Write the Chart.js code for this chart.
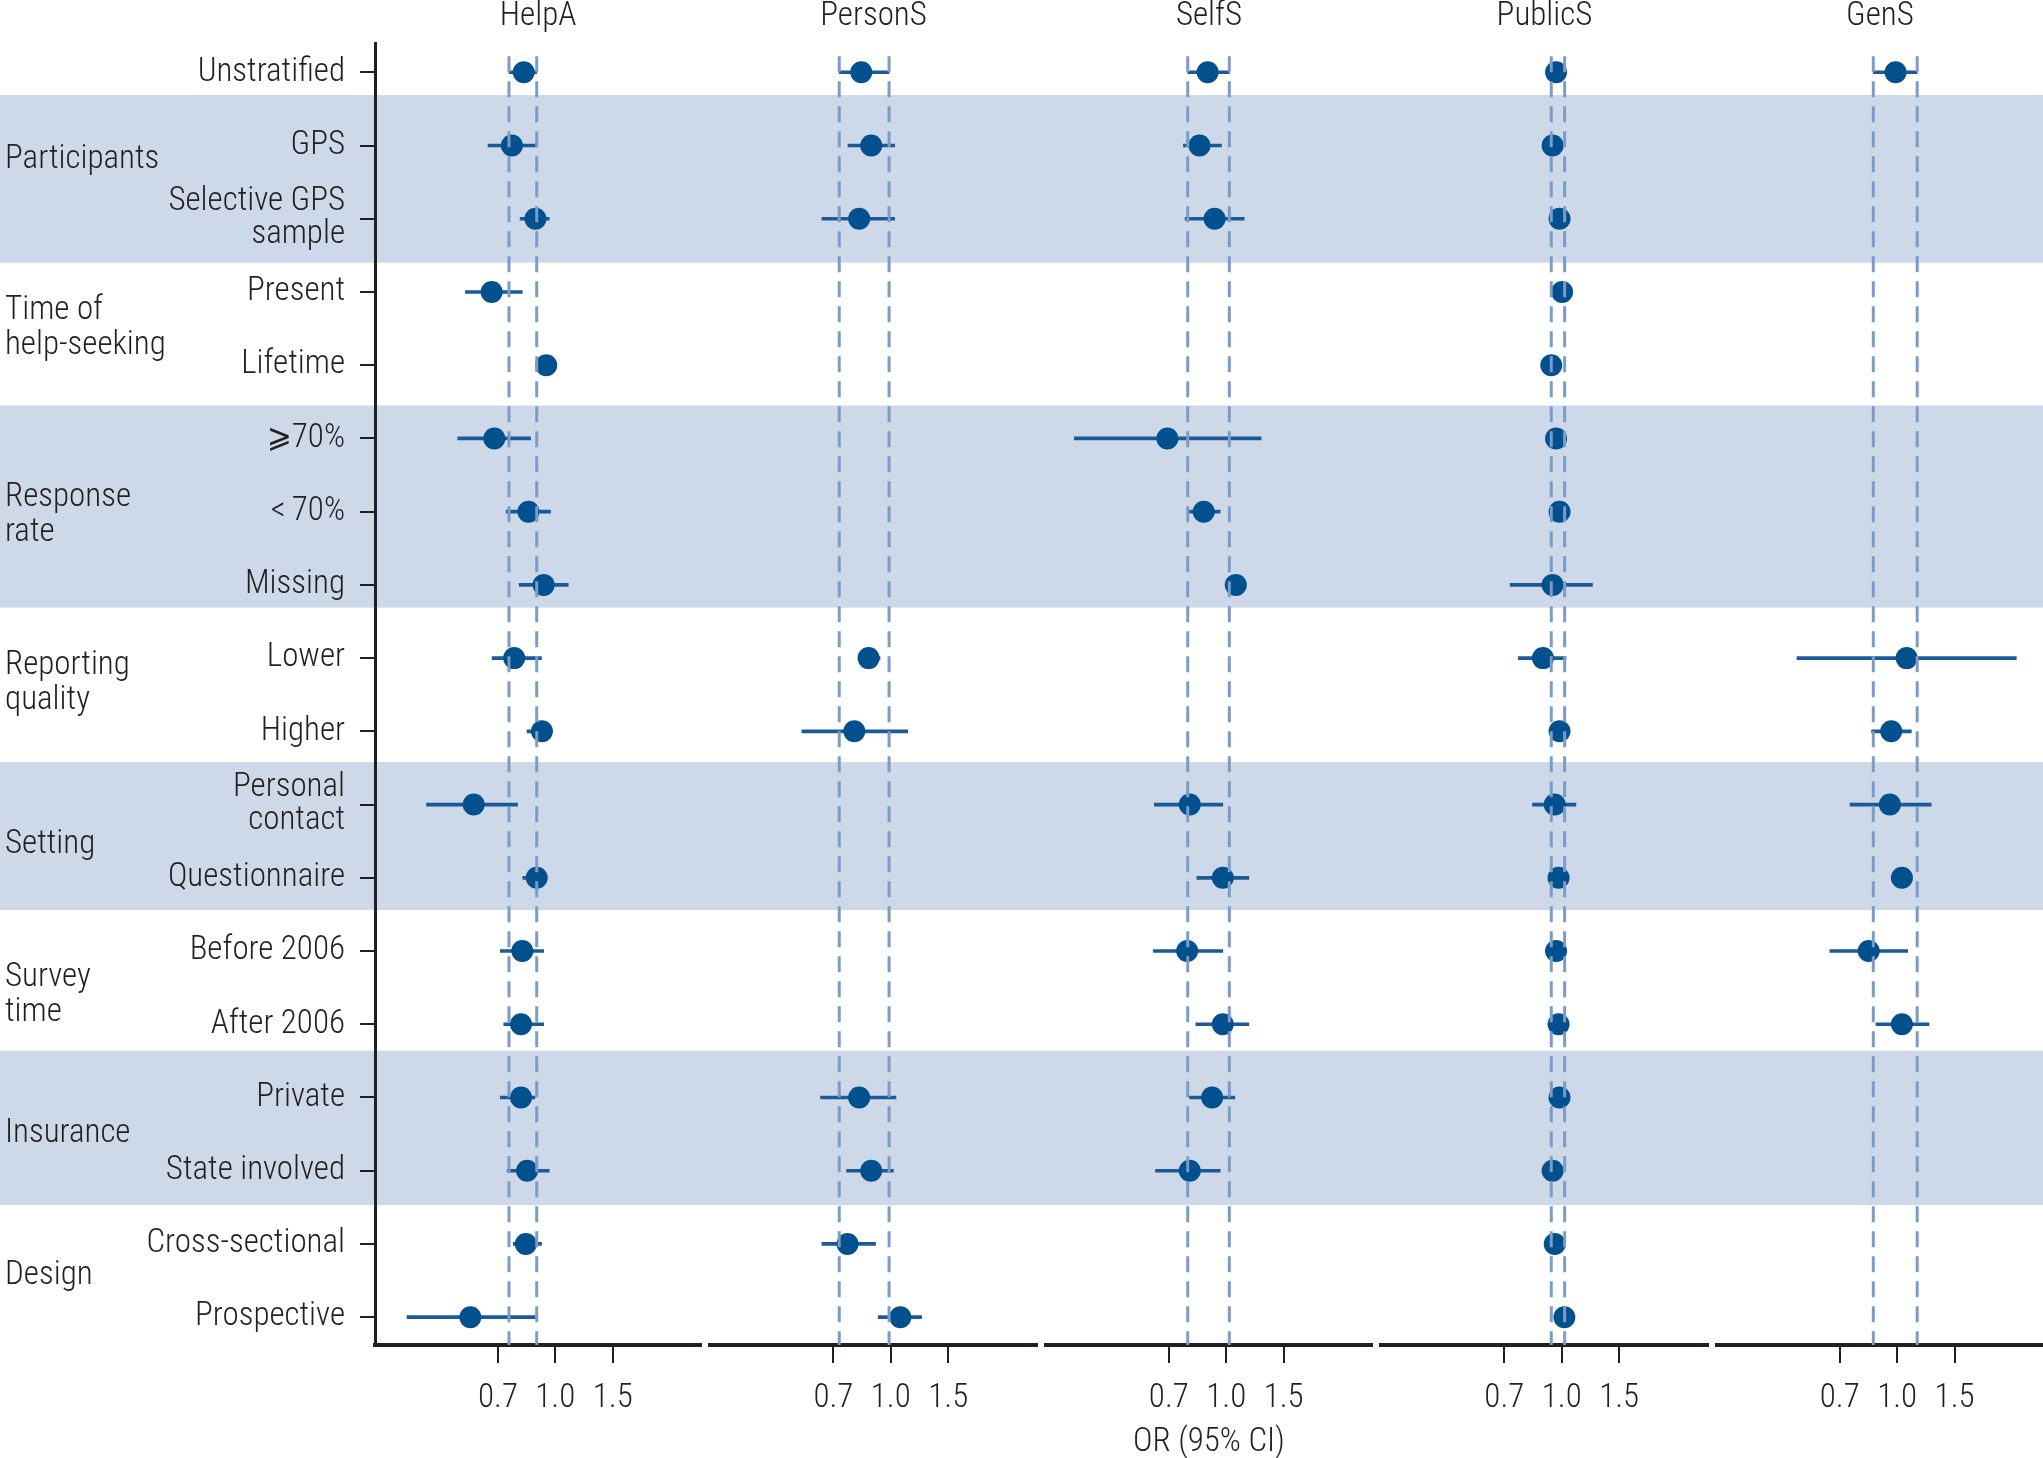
<!DOCTYPE html>
<html>
<head>
<meta charset="utf-8">
<title>Help-seeking odds ratios by study characteristics</title>
<script src="https://cdn.jsdelivr.net/npm/chart.js@4.4.1/dist/chart.umd.min.js"></script>
<style>
  html, body { margin: 0; padding: 0; background: #fff; }
  #wrap { width: 2043px; height: 1458px; position: relative; }
</style>
</head>
<body>
<div id="wrap"><canvas id="chart"></canvas></div>
<script>
// rows (top to bottom) and the groups they belong to
const rowLabels = ['Unstratified', 'GPS', 'Selective GPS\nsample', 'Present', 'Lifetime',
  '\u2A7E70%', '<\u200970%', 'Missing', 'Lower', 'Higher', 'Personal\ncontact', 'Questionnaire',
  'Before 2006', 'After 2006', 'Private', 'State involved', 'Cross-sectional', 'Prospective'];
const groupNames = ['Participants', 'Time of\nhelp-seeking', 'Response\nrate', 'Reporting\nquality',
  'Setting', 'Survey\ntime', 'Insurance', 'Design'];
const groupRows = [[1, 2], [3, 4], [5, 7], [8, 9], [10, 11], [12, 13], [14, 15], [16, 17]];

const panelNames = ['HelpA', 'PersonS', 'SelfS', 'PublicS', 'GenS'];
const tickValues = [0.667, 1, 1.5];
const tickLabels = ['0.7', '1.0', '1.5'];

// OR and 95% CI per row, null = not reported
const helpaOR   = [0.80, 0.736, 0.869, 0.638, 0.938, 0.650, 0.827, 0.921, 0.748, 0.910, 0.562, 0.877, 0.792, 0.785, 0.785, 0.819, 0.812, 0.549];
const helpaLow  = [0.721, 0.622, 0.780, 0.530, 0.915, 0.502, 0.707, 0.775, 0.640, 0.819, 0.403, 0.795, 0.678, 0.695, 0.678, 0.712, 0.743, 0.351];
const helpaHigh = [0.877, 0.877, 0.958, 0.792, 0.962, 0.840, 0.967, 1.096, 0.907, 0.940, 0.766, 0.930, 0.921, 0.921, 0.866, 0.958, 0.907, 0.869];

const personsOR   = [0.812, 0.871, 0.800, null, null, null, null, null, 0.855, 0.773, null, null, null, null, 0.800, 0.871, 0.737, 1.070];
const personsLow  = [0.695, 0.739, 0.615, null, null, null, null, null, 0.797, 0.534, null, null, null, null, 0.609, 0.732, 0.615, 0.915];
const personsHigh = [0.988, 1.028, 1.028, null, null, null, null, null, 0.927, 1.127, null, null, null, null, 1.037, 1.018, 0.898, 1.243];

const selfsOR   = [0.877, 0.828, 0.921, null, null, 0.660, 0.853, 1.070, null, null, 0.773, 0.976, 0.759, 0.976, 0.905, 0.773, null, null];
const selfsLow  = [0.762, 0.739, 0.748, null, null, 0.342, 0.762, 1.040, null, null, 0.602, 0.813, 0.598, 0.807, 0.771, 0.607, null, null];
const selfsHigh = [1.022, 0.967, 1.135, null, null, 1.279, 0.958, 1.100, null, null, 0.976, 1.173, 0.976, 1.173, 1.063, 0.958, null, null];

const publicsOR   = [0.961, 0.938, 0.985, 1.003, 0.929, 0.961, 0.985, 0.938, 0.876, 0.985, 0.952, 0.978, 0.961, 0.978, 0.985, 0.938, 0.952, 1.019];
const publicsLow  = [0.929, 0.910, 0.955, 0.975, 0.900, 0.930, 0.955, 0.695, 0.736, 0.955, 0.814, 0.948, 0.930, 0.948, 0.955, 0.910, 0.920, 0.990];
const publicsHigh = [1.021, 0.970, 1.015, 1.030, 0.960, 0.990, 1.015, 1.243, 1.031, 1.015, 1.106, 1.008, 0.990, 1.008, 1.015, 0.970, 0.985, 1.050];

const gensOR   = [0.989, null, null, null, null, null, null, null, 1.069, 0.959, 0.950, 1.034, 0.818, 1.034, null, null, null, null];
const gensLow  = [0.845, null, null, null, null, null, null, null, 0.493, 0.835, 0.717, 1.000, 0.622, 0.861, null, null, null, null];
const gensHigh = [1.152, null, null, null, null, null, null, null, 2.319, 1.105, 1.272, 1.070, 1.077, 1.252, null, null, null, null];

const panelOR   = [helpaOR, personsOR, selfsOR, publicsOR, gensOR];
const panelLow  = [helpaLow, personsLow, selfsLow, publicsLow, gensLow];
const panelHigh = [helpaHigh, personsHigh, selfsHigh, publicsHigh, gensHigh];

// look
const FONT = "'Liberation Sans Narrow', 'Roboto Condensed', 'DejaVu Sans Condensed', sans-serif";
const WEIGHT = '300';
const TEXT = '#231f20';
const AXIS = '#231f20';
const POINT = '#03508e';
const CI = '#1a5a98';
const DASH = '#7b9cc7';
const BAND = '#cdd8e9';
const xMin = 0.28, xMax = 2.8;
const yTop = -0.4, yBottom = 17.38, refTop = -0.22;
const bandEdges = [[0.31, 2.6], [4.55, 7.31], [9.42, 11.44], [13.36, 15.47]];
const groupNudge = [-0.3, 0, 0.05, -0.15, 0.05, 0.1, 0, -0.06];

// the reference face is a condensed one; size the text so "Unstratified" is ~146px wide
const probe = document.createElement('canvas').getContext('2d');
probe.font = WEIGHT + ' 34px ' + FONT;
const FS = Math.min(34, Math.round(34 * 146 / probe.measureText('Unstratified').width));

const decor = {
  id: 'decor',
  beforeDraw(chart) {
    const ctx = chart.ctx, y = chart.scales.y;
    ctx.save();
    ctx.fillStyle = BAND;
    bandEdges.forEach(([a, b]) => {
      const t = y.getPixelForValue(a), bt = y.getPixelForValue(b);
      ctx.fillRect(0, t, chart.width, bt - t);
    });
    ctx.restore();
  },
  afterDraw(chart) {
    const ctx = chart.ctx, y = chart.scales.y;
    ctx.save();
    ctx.fillStyle = TEXT;
    ctx.font = WEIGHT + ' ' + FS + 'px ' + FONT;
    ctx.textBaseline = 'middle';
    ctx.textAlign = 'center';
    panelNames.forEach((n, k) => {
      const s = chart.scales['x' + k];
      ctx.fillText(n, (s.left + s.right) / 2, 17);
    });
    ctx.textAlign = 'left';
    groupNames.forEach((g, i) => {
      const [a, b] = groupRows[i];
      const lines = g.split('\n');
      const cy = y.getPixelForValue((a + b) / 2 + groupNudge[i]);
      lines.forEach((ln, j) => ctx.fillText(ln, 5, cy + (j - (lines.length - 1) / 2) * 35));
    });
    ctx.restore();
  }
};

const scales = {};
const datasets = [];
panelNames.forEach((name, k) => {
  const xid = 'x' + k;
  scales[xid] = {
    type: 'logarithmic', position: 'bottom', stack: 'panels', stackWeight: 1,
    min: xMin, max: xMax, bounds: 'data', offset: false,
    afterBuildTicks: s => { s.ticks = tickValues.map(v => ({ value: v })); },
    afterFit: s => { s.height = 113; s.paddingLeft = 0; s.paddingRight = 0; },
    ticks: { autoSkip: false, maxRotation: 0, padding: 36 - FS / 2, color: TEXT,
      font: { family: FONT, size: FS, weight: WEIGHT, lineHeight: FS + 'px' },
      callback: (v, i) => tickLabels[i] },
    grid: { offset: false, drawOnChartArea: false, drawTicks: true, tickLength: 18, color: AXIS, lineWidth: 2 },
    border: { display: true, color: AXIS, width: 4 },
    title: k === 2
      ? { display: true, text: 'OR (95% CI)', color: TEXT, padding: { top: 0, bottom: 0 },
          font: { family: FONT, size: FS, weight: WEIGHT, lineHeight: '30px' } }
      : { display: false }
  };
  if (k < panelNames.length - 1) {
    scales['gap' + k] = { type: 'linear', display: false, position: 'bottom', stack: 'panels', stackWeight: 0.0285,
      afterFit: s => { s.paddingLeft = 0; s.paddingRight = 0; } };
  }

  const or = panelOR[k], lo = panelLow[k], hi = panelHigh[k];
  const rows = or.map((v, i) => i).filter(i => or[i] !== null);
  datasets.push({
    type: 'bar', indexAxis: 'y', xAxisID: xid, yAxisID: 'y', grouped: false,
    data: rows.map(i => ({ x: [lo[i], hi[i]], y: i })),
    backgroundColor: CI, barThickness: 3, order: 2
  });
  datasets.push({
    type: 'scatter', xAxisID: xid, yAxisID: 'y',
    data: rows.map(i => ({ x: or[i], y: i })),
    pointRadius: 11, pointBackgroundColor: POINT, pointBorderWidth: 0, order: 1
  });
  // dashed reference lines at the unstratified CI
  [lo[0], hi[0]].forEach(v => datasets.push({
    type: 'line', xAxisID: xid, yAxisID: 'y',
    data: [{ x: v, y: refTop }, { x: v, y: yBottom }],
    borderColor: DASH, borderWidth: 3, borderDash: [16, 9], pointRadius: 0, fill: false, order: 0
  }));
});

scales.y = {
  type: 'linear', position: 'left', reverse: true, min: yTop, max: yBottom, offset: false,
  afterBuildTicks: s => { s.ticks = rowLabels.map((_, i) => ({ value: i })); },
  afterFit: s => { s.width = 375; s.paddingTop = 0; s.paddingBottom = 0; },
  ticks: { autoSkip: false, padding: 15, color: TEXT,
    font: { family: FONT, size: FS, weight: WEIGHT, lineHeight: '33px' },
    callback: v => rowLabels[v].split('\n') },
  grid: { offset: false, drawOnChartArea: false, drawTicks: true, tickLength: 15, color: AXIS, lineWidth: 2 },
  border: { display: true, color: AXIS, width: 3 }
};

new Chart(document.getElementById('chart'), {
  type: 'scatter',
  data: { datasets },
  options: {
    responsive: true,
    maintainAspectRatio: false,
    animation: false,
    layout: { autoPadding: false, padding: { top: 43, left: 0, right: 0, bottom: 0 } },
    plugins: { legend: { display: false }, tooltip: { enabled: false } },
    scales
  },
  plugins: [decor]
});
</script>
</body>
</html>
